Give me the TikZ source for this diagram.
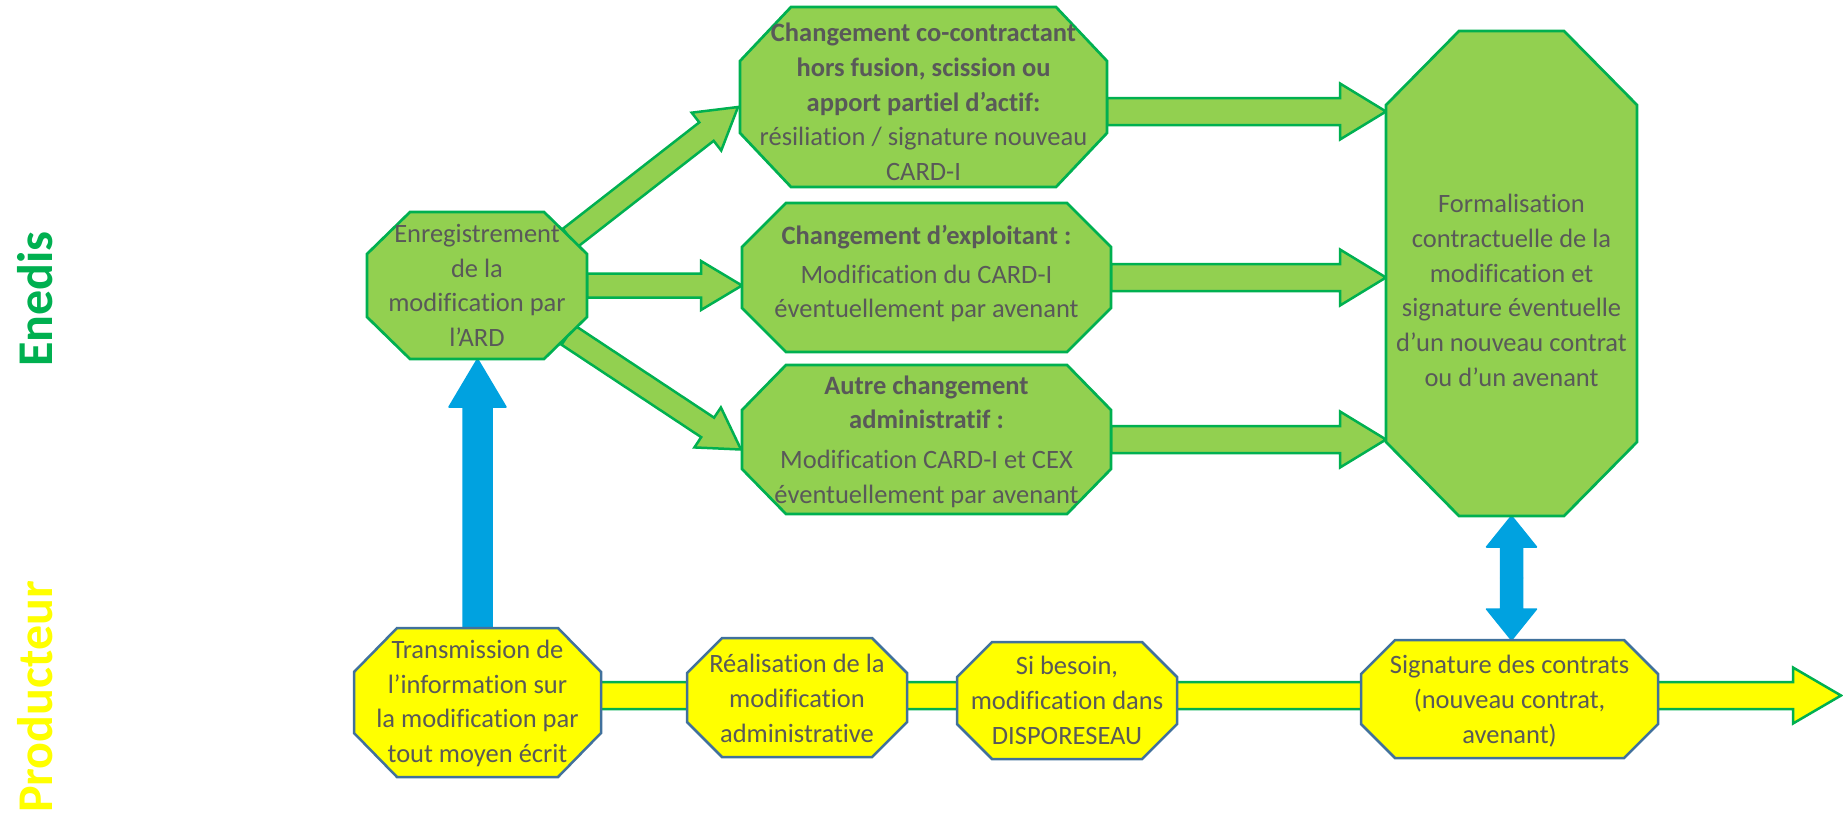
\documentclass[tikz,border=0pt]{standalone}
\usepackage{fontspec}
\setmainfont{Carlito}[Ligatures=NoCommon]
\usetikzlibrary{calc,backgrounds}
\definecolor{gfill}{HTML}{92D050}
\definecolor{gline}{HTML}{00B050}
\definecolor{yfill}{HTML}{FFFF00}
\definecolor{yline}{HTML}{41719C}
\definecolor{bluearr}{HTML}{00A2E0}
\definecolor{txtgray}{HTML}{595959}

% octagon drawn on the frame of a named node: style, node, horizontal cut, vertical cut
\newcommand\octagonbox[4]{%
  \path[#1] ($(#2.north west)+(#3,0)$) -- ($(#2.north east)+(-#3,0)$)
    -- ($(#2.north east)+(0,#4)$) -- ($(#2.south east)+(0,-#4)$)
    -- ($(#2.south east)+(-#3,0)$) -- ($(#2.south west)+(#3,0)$)
    -- ($(#2.south west)+(0,-#4)$) -- ($(#2.north west)+(0,#4)$) -- cycle;}

% block arrow: style, from, to, shaft half width, head half width, head length
\newcommand\blockarrow[6]{%
  \path[#1] let \p1=(#2), \p2=(#3),
      \n1={atan2(\y2-\y1,\x2-\x1)},
      \n2={veclen(\x2-\x1,\y2-\y1)-#6} in
    ($(\p1)+({\n1+90}:#4)$) -- ($(\p1)+(\n1:\n2)+({\n1+90}:#4)$)
    -- ($(\p1)+(\n1:\n2)+({\n1+90}:#5)$) -- (\p2)
    -- ($(\p1)+(\n1:\n2)+({\n1-90}:#5)$) -- ($(\p1)+(\n1:\n2)+({\n1-90}:#4)$)
    -- ($(\p1)+({\n1-90}:#4)$) -- cycle;}

\begin{document}
\begin{tikzpicture}[x=1pt,y=-1pt,
  geo/.style={inner sep=0pt, outer sep=0pt},
  gbox/.style={fill=gfill, draw=gline, line width=2.7pt, line join=miter},
  ybox/.style={fill=yfill, draw=yline, line width=2.5pt, line join=miter},
  garrow/.style={fill=gfill, draw=gline, line width=2.5pt, line join=miter},
  yarrow/.style={fill=yfill, draw=gline, line width=2.5pt, line join=miter},
  bluearrow/.style={fill=bluearr, draw=bluearr, line width=1.5pt, line join=round},
  txt/.style={font=\fontsize{26.5}{34.75}\selectfont, text=txtgray, align=center, inner sep=0pt},
  lbl/.style={font=\fontsize{50}{60}\selectfont\bfseries, inner sep=0pt, rotate=90, anchor=south}]
\useasboundingbox (0,0) rectangle (1843,822);

% side labels
\node[lbl, text=gline] (enedis) at (53,299) {Enedis};
\node[lbl, text=yfill] (prod) at (53,697) {Producteur};

% geometry nodes (Enedis row)
\node[geo, minimum width=220pt, minimum height=147pt] (enr) at (477,285.5) {};
\node[geo, minimum width=367pt, minimum height=180pt] (top) at (923.5,97) {};
\node[geo, minimum width=369pt, minimum height=149pt] (mid) at (926.5,277.5) {};
\node[geo, minimum width=369pt, minimum height=149pt] (bot) at (926.5,439.5) {};
\node[geo, minimum width=251pt, minimum height=485pt] (big) at (1511.5,273.5) {};
% geometry nodes (Producteur row)
\node[geo, minimum width=247pt, minimum height=149pt] (trans) at (477.5,702.5) {};
\node[geo, minimum width=220pt, minimum height=119pt] (real) at (797,697.5) {};
\node[geo, minimum width=220pt, minimum height=117pt] (si) at (1067,700.5) {};
\node[geo, minimum width=297pt, minimum height=118pt] (sig) at (1509.5,699) {};

% texts
\node[txt] (enrT) at (enr.center) {Enregistrement\\de la\\modification par\\l’ARD};
\node[txt] (topT) at ($(top.center)+(0,5)$) {\textbf{Changement co-contractant}\\\textbf{hors fusion, scission ou}\\\textbf{apport partiel d’actif:}\\résiliation / signature nouveau\\CARD-I};
\node[txt] (midT) at ($(mid.center)+(0,-4)$) {\textbf{Changement d’exploitant :}\\[4pt]Modification du CARD-I\\éventuellement par avenant};
\node[txt] (botT) at ($(bot.center)+(0,2)$) {\textbf{Autre changement}\\\textbf{administratif :}\\[5pt]Modification CARD-I et CEX\\éventuellement par avenant};
\node[txt] (bigT) at ($(big.center)+(0,17)$) {Formalisation\\contractuelle de la\\modification et\\signature éventuelle\\d’un nouveau contrat\\ou d’un avenant};
\node[txt] (transT) at ($(trans.center)+(0,1)$) {Transmission de\\l’information sur\\la modification par\\tout moyen écrit};
\node[txt] (realT) at ($(real.center)+(0,1)$) {Réalisation de la\\modification\\administrative};
\node[txt] (siT) at (si.center) {Si besoin,\\modification dans\\DISPORESEAU};
\node[txt] (sigT) at ($(sig.center)+(0,2)$) {Signature des contrats\\(nouveau contrat,\\avenant)};

% connector end points
\coordinate (enrUR) at ($(enr.north east)+(-17,26)$);
\coordinate (enrLR) at ($(enr.south east)+(-19,-24)$);
\coordinate (topIn) at ($(top.west)+(-2,10)$);
\coordinate (botIn) at ($(bot.west)+(-1,10)$);
\coordinate (topOut) at ($(top.east)+(0,14.5)$);
\coordinate (yend) at (1841,695.5);
\coordinate (bmid) at ($(big.south)!0.5!(big.south |- sig.north)$);

\begin{pgfonlayer}{background}
  % Producteur line
  \blockarrow{yarrow}{trans.center |- yend}{yend}{13.5pt}{28pt}{48pt}
  % blue arrows
  \blockarrow{bluearrow}{trans.north}{trans.north |- enr.south}{14.5pt}{28.5pt}{48pt}
  \blockarrow{bluearrow}{bmid}{big.south}{11pt}{25pt}{31pt}
  \blockarrow{bluearrow}{bmid}{big.south |- sig.north}{11pt}{25pt}{31pt}
  % green arrows
  \blockarrow{garrow}{enrUR}{topIn}{11.7pt}{24pt}{40pt}
  \blockarrow{garrow}{enr.east}{mid.west |- enr.east}{12pt}{24.5pt}{41pt}
  \blockarrow{garrow}{enrLR}{botIn}{11.7pt}{24pt}{40pt}
  \blockarrow{garrow}{topOut}{big.west |- topOut}{13.5pt}{28pt}{46pt}
  \blockarrow{garrow}{mid.east}{big.west |- mid.east}{13.5pt}{28pt}{46pt}
  \blockarrow{garrow}{bot.east}{big.west |- bot.east}{13.5pt}{28pt}{46pt}
  % boxes
  \octagonbox{gbox}{enr}{43}{42}
  \octagonbox{gbox}{top}{51}{54}
  \octagonbox{gbox}{mid}{44}{44}
  \octagonbox{gbox}{bot}{44}{45}
  \octagonbox{gbox}{big}{73}{74}
  \octagonbox{ybox}{trans}{43}{44}
  \octagonbox{ybox}{real}{35}{35}
  \octagonbox{ybox}{si}{35}{35}
  \octagonbox{ybox}{sig}{34}{34}
\end{pgfonlayer}
\end{tikzpicture}
\end{document}
